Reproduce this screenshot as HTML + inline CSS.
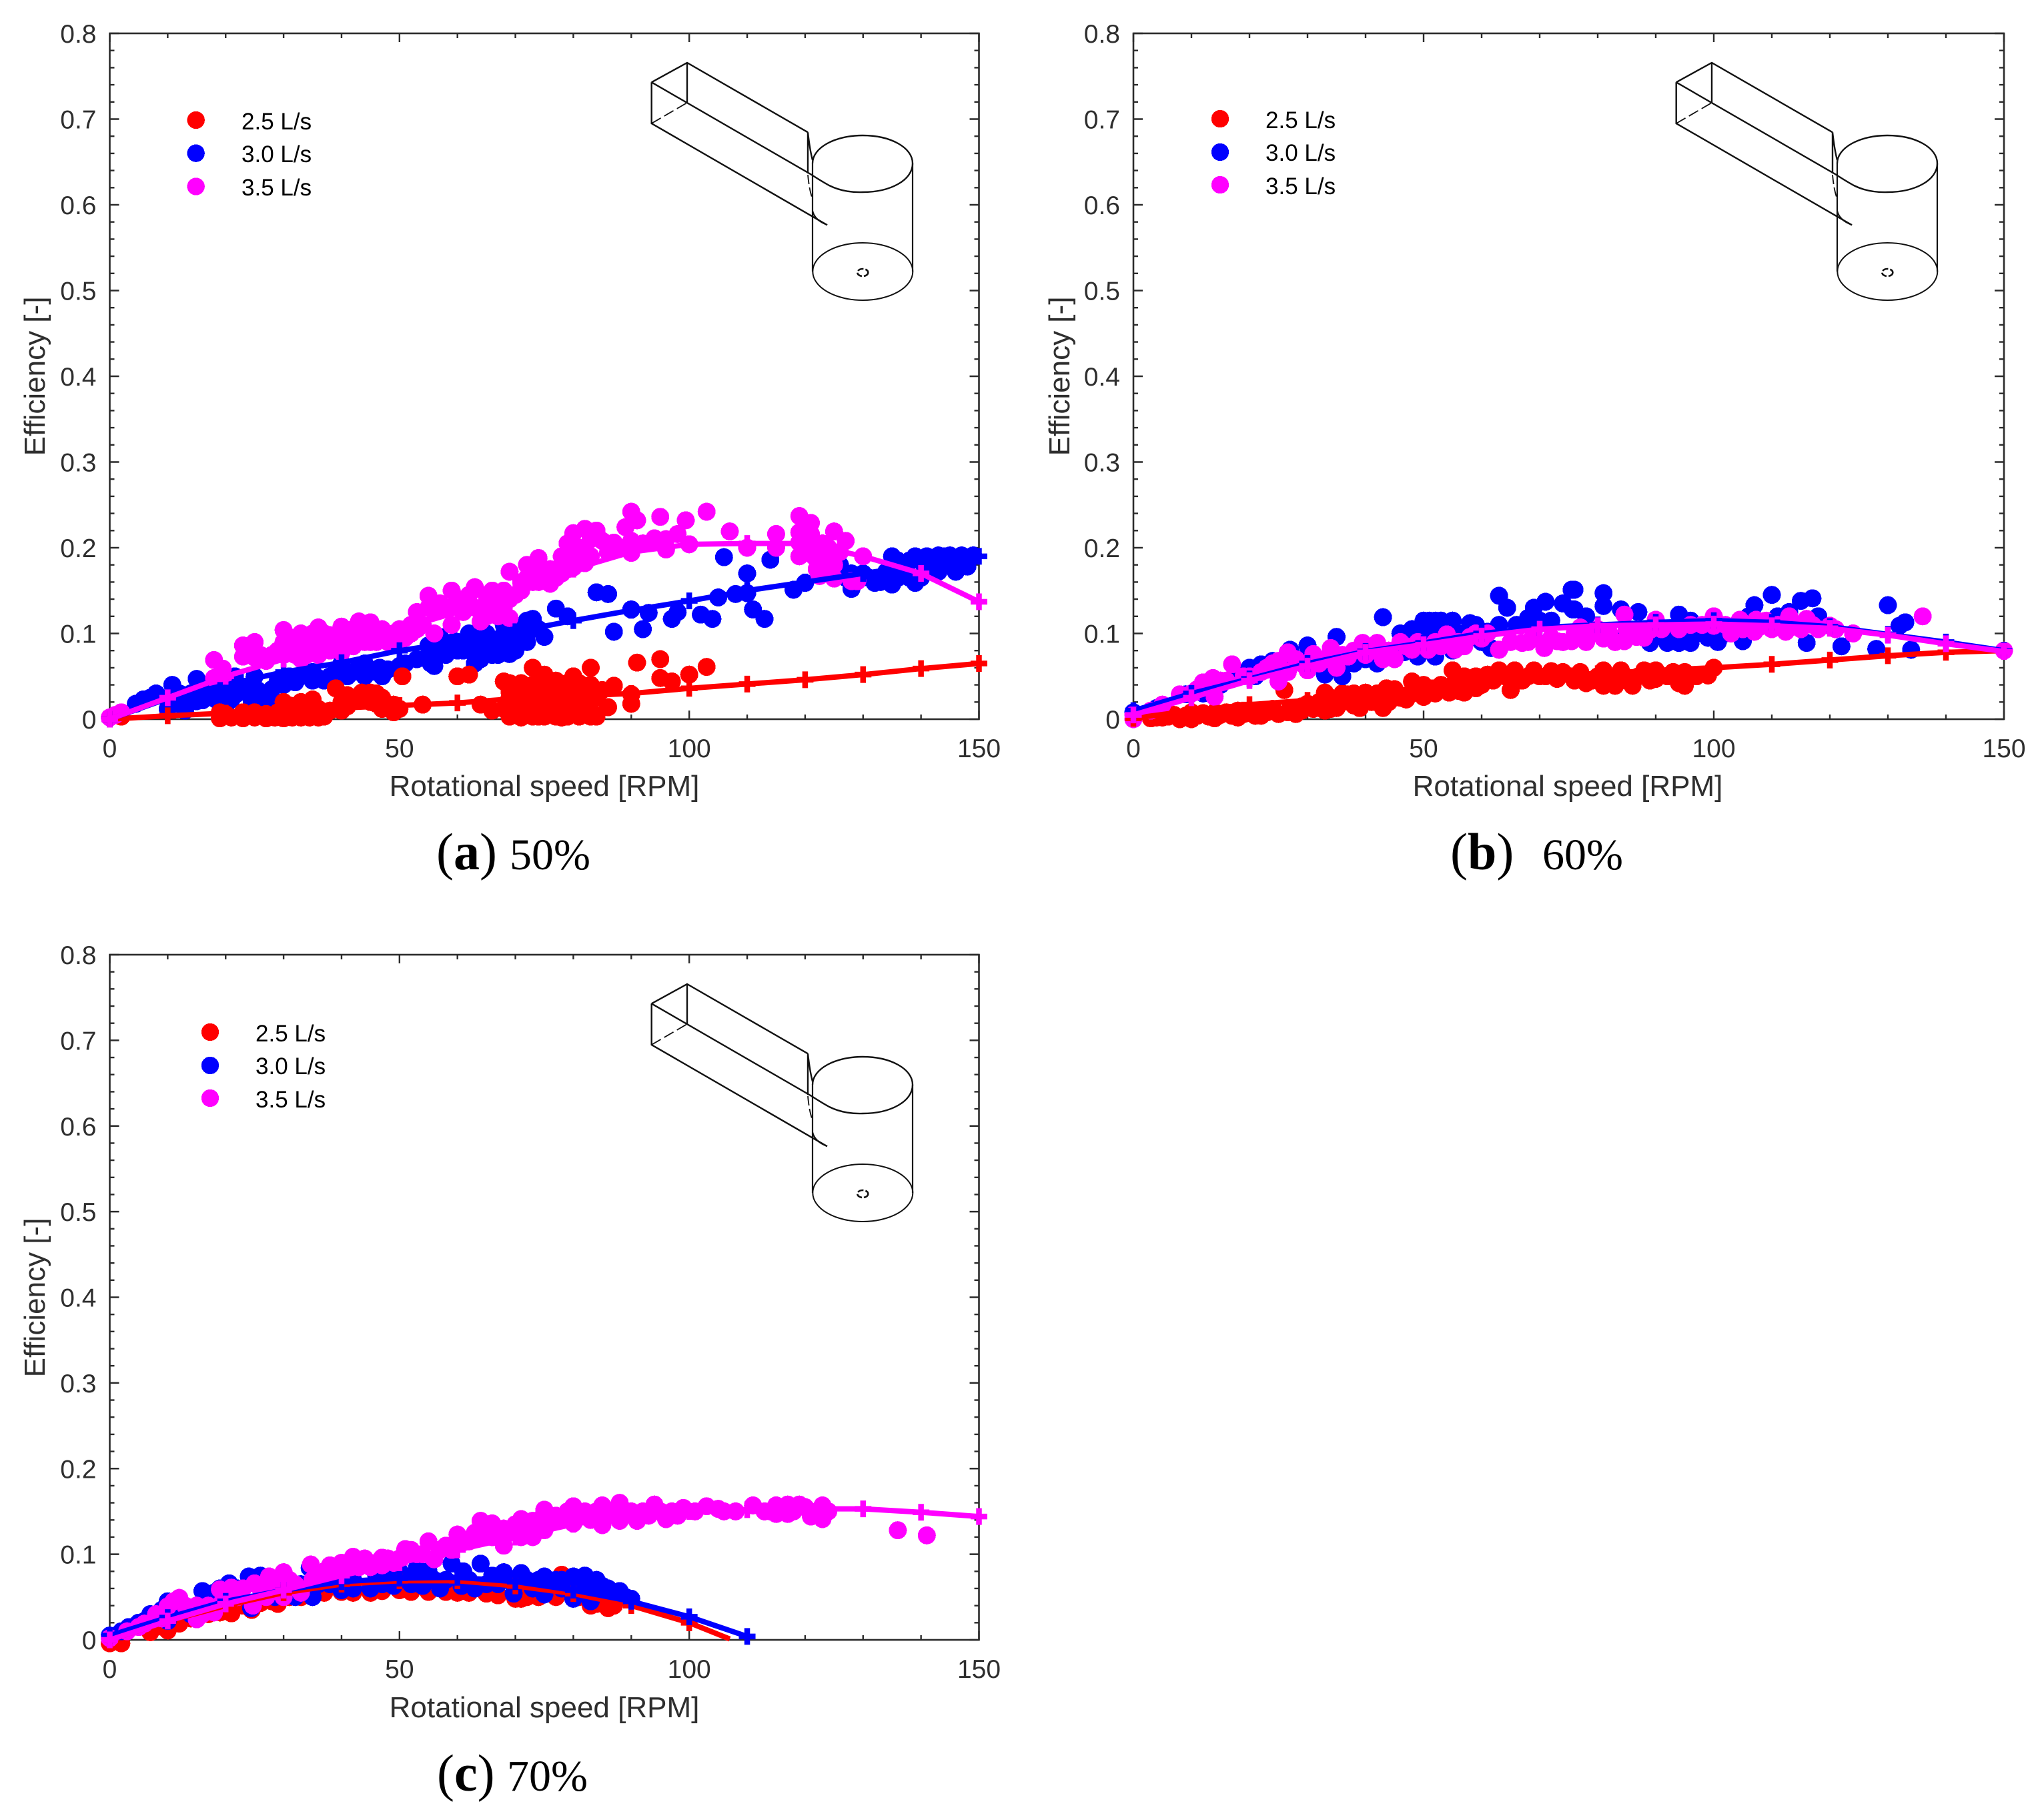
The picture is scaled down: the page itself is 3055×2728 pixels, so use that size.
<!DOCTYPE html>
<html>
<head>
<meta charset="utf-8">
<title>Efficiency vs rotational speed</title>
<style>
html,body{margin:0;padding:0;background:#fff;}
svg{display:block;}
text{font-family:"Liberation Sans",sans-serif;}
.tick-label{font-size:39px;fill:#2e2e2e;}
.axis-title{font-size:44px;fill:#2e2e2e;}
.legend-text{font-size:35px;fill:#000;}
.cap{font-family:"Liberation Serif",serif;fill:#000;}
</style>
</head>
<body>
<svg id="figure" xmlns="http://www.w3.org/2000/svg" width="3055" height="2728" viewBox="0 0 3055 2728">
<defs>
<g id="schematic" fill="none" stroke="#111">
<path stroke-width="2.4" d="M976.7 123.3L1030 94L1211 198.3"/>
<path stroke-width="2.4" d="M976.7 123.3L976.7 185L1240 337.3M1030 94L1030 154"/>
<path stroke-width="2.4" d="M976.7 123.3L1215 261Q1232 272 1243 278Q1265 289 1293 288C1335 288 1368 270 1368 245C1368 221 1335 203 1293 203C1252 203 1218 221 1218 245"/>
<path stroke-width="1.8" stroke-dasharray="16 6" d="M976.7 185L1030 154"/>
<path stroke-width="2.4" d="M1211 198.3L1211 260M1211 198.3Q1214 225 1218 240"/>
<path stroke-width="1.8" stroke-dasharray="14 5" d="M1211 262Q1213 285 1218 298"/>
<path stroke-width="2.2" d="M1218 245L1218 407M1368 245L1368 407M1218 316Q1221 330 1240 337"/>
<ellipse cx="1293.3" cy="407" rx="75" ry="43" stroke-width="2"/>
<ellipse cx="1293.3" cy="408.5" rx="8" ry="5.5" stroke-width="2.6" stroke-dasharray="9 3"/>
</g>
</defs>
<rect x="0" y="0" width="3055" height="2728" fill="#fff"/>

<g id="panel-a">
  <use href="#schematic"/>
  <g id="panel-a-plot"></g>
  <text class="axis-title" x="816" y="1193" text-anchor="middle">Rotational speed [RPM]</text>
  <text class="axis-title" transform="translate(67 564) rotate(-90)" text-anchor="middle">Efficiency [-]</text>
  <g>
    <circle cx="293.7" cy="180" r="13.2" fill="#ff0000" shape-rendering="crispEdges"/>
    <text class="legend-text" x="362" y="194">2.5 L/s</text>
    <circle cx="293.7" cy="229.7" r="13.2" fill="#0000ff" shape-rendering="crispEdges"/>
    <text class="legend-text" x="362" y="243">3.0 L/s</text>
    <circle cx="293.7" cy="279.5" r="13.2" fill="#ff00ff" shape-rendering="crispEdges"/>
    <text class="legend-text" x="362" y="293">3.5 L/s</text>
  </g>
  <g>
    <text class="cap" x="654" y="1303" font-size="78">(<tspan font-weight="bold">a</tspan>)</text>
    <text class="cap" x="764" y="1303" font-size="66">50%</text>
  </g>
</g>

<g id="panel-b">
  <use href="#schematic" transform="translate(1536 0)"/>
  <g id="panel-b-plot"></g>
  <text class="axis-title" x="2350" y="1193" text-anchor="middle">Rotational speed [RPM]</text>
  <text class="axis-title" transform="translate(1603 564) rotate(-90)" text-anchor="middle">Efficiency [-]</text>
  <g>
    <circle cx="1829" cy="178" r="13.2" fill="#ff0000" shape-rendering="crispEdges"/>
    <text class="legend-text" x="1897" y="192">2.5 L/s</text>
    <circle cx="1829" cy="228" r="13.2" fill="#0000ff" shape-rendering="crispEdges"/>
    <text class="legend-text" x="1897" y="241">3.0 L/s</text>
    <circle cx="1829" cy="277" r="13.2" fill="#ff00ff" shape-rendering="crispEdges"/>
    <text class="legend-text" x="1897" y="291">3.5 L/s</text>
  </g>
  <g>
    <text class="cap" x="2174" y="1303" font-size="78">(<tspan font-weight="bold">b</tspan>)</text>
    <text class="cap" x="2312" y="1303" font-size="66">60%</text>
  </g>
</g>

<g id="panel-c">
  <use href="#schematic" transform="translate(0 1381)"/>
  <g id="panel-c-plot"></g>
  <text class="axis-title" x="816" y="2574" text-anchor="middle">Rotational speed [RPM]</text>
  <text class="axis-title" transform="translate(67 1945) rotate(-90)" text-anchor="middle">Efficiency [-]</text>
  <g>
    <circle cx="315" cy="1547" r="13.2" fill="#ff0000" shape-rendering="crispEdges"/>
    <text class="legend-text" x="383" y="1561">2.5 L/s</text>
    <circle cx="315" cy="1597" r="13.2" fill="#0000ff" shape-rendering="crispEdges"/>
    <text class="legend-text" x="383" y="1610">3.0 L/s</text>
    <circle cx="315" cy="1646" r="13.2" fill="#ff00ff" shape-rendering="crispEdges"/>
    <text class="legend-text" x="383" y="1660">3.5 L/s</text>
  </g>
  <g>
    <text class="cap" x="655" y="2684" font-size="78">(<tspan font-weight="bold">c</tspan>)</text>
    <text class="cap" x="760" y="2684" font-size="66">70%</text>
  </g>
</g>
</svg>

<script>
// Tick labels
const xTickValues = [0, 50, 100, 150];
const yTickValues = [0, 0.1, 0.2, 0.3, 0.4, 0.5, 0.6, 0.7, 0.8];
const yTickLabels = ['0', '0.1', '0.2', '0.3', '0.4', '0.5', '0.6', '0.7', '0.8'];

// Fitted curves: RPM sample positions and efficiencies
const fitRpm = [0, 10, 20, 30, 40, 50, 60, 70, 80, 90, 100, 110, 120, 130, 140, 150];
const aFit25 = [0, .004, .007, .010, .013, .016, .019, .024, .027, .030, .036, .041, .046, .052, .059, .065];
const aFit30 = [0, .024, .040, .055, .066, .080, .090, .102, .115, .127, .138, .150, .160, .170, .180, .190];
const aFit35 = [0, .025, .050, .070, .090, .105, .125, .150, .175, .195, .204, .205, .205, .190, .170, .137];
const bFit25 = [.001, .010, .017, .022, .030, .037, .043, .050, .053, .057, .060, .064, .069, .074, .078, .080];
const bFit30 = [.010, .030, .047, .065, .079, .089, .100, .107, .110, .113, .115, .113, .108, .099, .090, .080];
const bFit35 = [.005, .025, .045, .062, .078, .087, .097, .105, .109, .110, .111, .109, .106, .098, .088, .079];
const cFit25Rpm = [0, 10, 20, 30, 40, 50, 60, 70, 80, 90, 100, 107];
const cFit25 = [0, .022, .040, .055, .065, .069, .069, .063, .054, .040, .020, .001];
const cFit30Rpm = [0, 10, 20, 30, 40, 50, 60, 70, 80, 90, 100, 110];
const cFit30 = [.005, .026, .045, .058, .068, .072, .073, .068, .058, .045, .027, .004];
const cFit35 = [0, .022, .042, .058, .075, .090, .105, .120, .135, .146, .150, .152, .153, .153, .149, .144];

// Measured points [rpm, efficiency] - panel (a) 50%
const aData25 = [[0,.002],[2,.003],[19,.001],[19,.008],[23,.001],[23,.008],[27,.001],[27,.006],[30,.001],[30,.012],[30,.02],[33,.002],[33,.012],[36,.002],[36,.012],[35,.023],[39,.036],[40,.01],[40,.02],[43.5,.031],[45,.031],[45,.02],[49,.008],[49,.017],[50.5,.05],[54,.017],[60,.05],[62,.052],[64,.017],[66,.01],[68,.044],[68,.012],[69,.025],[70,.036],[70,.005],[71,.002],[71,.015],[72,.025],[73,.06],[73,.04],[73,.01],[74,.003],[75,.052],[75,.035],[75,.02],[76,.008],[77,.03],[77,.045],[78,.002],[78,.018],[79,.035],[80,.05],[80,.03],[80,.012],[81,.003],[82,.022],[83,.06],[83,.04],[83,.01],[84,.003],[84,.025],[85,.034],[87,.039],[86,.014],[90,.029],[90,.018],[91,.066],[95,.07],[95,.048],[97,.044],[100,.052],[103,.061],[21,.002],[25,.002],[28.5,.002],[31.5,.002],[34.5,.002],[37,.003],[38,.01],[20,.006],[25,.008],[29,.008],[32,.012],[35,.014],[26,.005],[31,.016],[33,.02],[34,.016],[30,.006],[41,.015],[41,.028],[42,.022],[44,.022],[46,.018],[46,.03],[47,.025],[47,.012],[48,.013],[50,.012],[69,.003],[69,.012],[69,.032],[69,.042],[71,.022],[71,.032],[71,.042],[73,.003],[73,.022],[73,.032],[75,.003],[75,.012],[75,.042],[77,.003],[77,.012],[77,.022],[79,.003],[79,.012],[79,.022],[79,.042],[81,.012],[81,.032],[81,.042],[83,.003],[83,.022],[83,.032]];
const aData30 = [[0,.002],[2,.004],[5.8,.023],[4.5,.018],[7,.025],[10.8,.04],[10.8,.03],[10,.012],[13,.01],[15,.047],[15,.021],[18.3,.023],[21,.023],[24.5,.02],[27,.021],[25.5,.034],[21.6,.05],[25,.05],[19,.035],[28,.035],[32,.043],[30,.04],[36,.048],[40.5,.053],[35,.055],[44,.05],[46.6,.06],[44,.065],[40,.065],[55.4,.065],[56,.062],[55,.086],[57,.096],[59.5,.091],[58,.075],[61,.08],[63,.065],[64,.07],[64,.086],[66,.09],[67,.075],[69,.076],[68,.1],[71,.105],[72,.09],[62,.1],[73,.117],[75,.096],[77,.129],[79,.12],[84,.148],[86,.146],[87,.102],[90,.128],[93,.124],[92,.105],[97,.117],[98,.125],[102,.122],[104,.117],[105,.142],[108,.146],[110,.147],[106,.189],[110,.17],[114,.186],[111,.128],[113,.117],[118,.151],[120,.159],[125,.164],[128,.152],[132,.159],[135,.157],[139,.159],[135,.19],[139,.19],[143,.191],[143,.172],[146,.172],[147,.191],[137.5,.172],[130,.17],[140.5,.18],[126,.18],[8,.03],[12,.03],[14,.03],[16,.03],[17,.03],[18,.04],[20,.03],[22,.03],[23,.038],[24,.03],[26,.028],[27,.03],[28,.025],[12,.018],[16,.022],[20,.015],[29,.045],[31,.05],[33,.05],[35,.045],[37,.045],[38,.05],[39,.055],[41,.05],[42,.055],[43,.06],[45,.055],[47,.05],[48,.058],[50,.062],[56,.07],[57,.08],[58,.085],[60,.09],[60,.08],[61,.09],[62,.085],[63,.075],[63,.095],[65,.08],[65,.1],[66,.075],[67,.085],[68,.09],[69,.085],[70,.08],[70,.1],[71,.09],[72,.1],[72,.115],[74,.105],[68,.11],[55,.075],[53,.07],[51,.065],[131,.165],[133,.16],[134,.172],[136,.165],[137,.18],[138,.165],[140,.165],[141,.175],[142,.185],[144,.185],[145,.18],[148,.178],[136,.185],[138,.185],[141,.19],[144,.19],[145,.191],[149,.191],[126,.17],[127,.165],[128,.17]];
const aData35 = [[0,.002],[1,.005],[2,.008],[18,.069],[19.5,.059],[18,.048],[19.5,.047],[23,.086],[25,.09],[23,.073],[25,.072],[27,.068],[30,.104],[30,.09],[30,.075],[33,.1],[33,.085],[33,.07],[36,.107],[36,.09],[36,.075],[38,.098],[40,.108],[40,.09],[40,.078],[43,.114],[43,.095],[45,.113],[45,.09],[47,.095],[49,.1],[51,.105],[52,.11],[53,.125],[55,.144],[56,.1],[59,.15],[59,.11],[61,.125],[63,.154],[64,.114],[65,.135],[67,.14],[69,.172],[69,.118],[71,.16],[72,.18],[74,.188],[74,.174],[76,.158],[78,.19],[78,.17],[80,.217],[80,.177],[82,.222],[82,.182],[84,.22],[85,.208],[87,.206],[90,.242],[91,.232],[89,.224],[90,.194],[90,.208],[94,.211],[96,.198],[95,.236],[99.4,.232],[98,.216],[103,.242],[100,.204],[107,.219],[110,.2],[115,.216],[115,.2],[119,.237],[121,.229],[121,.216],[125,.219],[127,.208],[119,.206],[119,.19],[121.5,.19],[125,.19],[125,.18],[122.5,.167],[130,.19],[129,.161],[128,.161],[125,.164],[26,.075],[28,.075],[29,.08],[31,.095],[31,.08],[32,.075],[32,.095],[34,.075],[34,.09],[35,.1],[37,.085],[37,.1],[38,.08],[39,.085],[41,.1],[41,.085],[42,.085],[42,.105],[44,.09],[44,.1],[46,.1],[46,.09],[47,.105],[48,.09],[49,.09],[50,.09],[50,.105],[51,.095],[52,.1],[53,.105],[54,.11],[55,.13],[56,.125],[57,.135],[58,.13],[60,.14],[61,.14],[62,.145],[63,.13],[65,.145],[65,.12],[66,.13],[66,.15],[67,.12],[68,.13],[68,.15],[69,.14],[70,.145],[71,.15],[72,.165],[73,.16],[74,.16],[75,.17],[76,.175],[77,.165],[78,.18],[79,.175],[80,.19],[81,.2],[82,.2],[79,.205],[83,.21],[80,.2],[83,.19],[86,.195],[88,.2],[92,.205],[96,.21],[122,.2],[123,.205],[124,.2],[120,.2],[119,.218],[122,.175],[124,.175],[126,.195],[123,.185]];

// Measured points [rpm, efficiency] - panel (b) 60%
const bData25 = [[3,.001],[5,.002],[8,0],[10,0],[10,.008],[14,.008],[14,.001],[18,.002],[18,.01],[22,.004],[22,.01],[26,.034],[26.6,.008],[29,.01],[30,.018],[33,.031],[33,.01],[35,.013],[37,.029],[39,.013],[40,.031],[43,.013],[43.6,.036],[47,.023],[48,.044],[50,.026],[51.5,.036],[55,.057],[54.4,.031],[58,.047],[57,.031],[61,.052],[63,.057],[65,.034],[65.7,.057],[69,.057],[72,.056],[74,.055],[75.5,.05],[77,.055],[78,.042],[81,.057],[81,.039],[83,.039],[84,.057],[86,.039],[88,.057],[90,.057],[90,.047],[95,.055],[95,.039],[94,.042],[99,.051],[100,.06],[4,.002],[6,.003],[7,.005],[9,.004],[11,.004],[12,.007],[13,.003],[15,.005],[16,.008],[17,.004],[19,.006],[20,.01],[21,.004],[23,.008],[24,.012],[25,.006],[27,.012],[28,.006],[29,.015],[31,.012],[32,.02],[34,.012],[34,.025],[36,.02],[36,.03],[38,.016],[38,.03],[41,.02],[42,.03],[44,.02],[45,.035],[46,.025],[48,.03],[49,.035],[50,.04],[52,.03],[53,.04],[55,.04],[56,.033],[57,.05],[59,.036],[59,.05],[60,.04],[62,.045],[64,.05],[66,.05],[67,.045],[68,.05],[70,.05],[71,.05],[73,.047],[76,.045],[79,.045],[80,.05],[82,.048],[85,.045],[87,.05],[89,.045],[92,.05],[93,.055],[97,.05]];
const bData30 = [[0,.008],[4,.013],[9,.029],[17,.047],[20,.06],[22,.064],[27,.081],[30,.086],[35,.096],[33,.052],[36,.06],[43,.119],[46,.1],[48,.105],[50,.115],[51,.115],[53,.115],[55,.115],[58,.112],[59,.11],[61,.102],[50,.102],[46.6,.078],[49,.073],[52,.073],[61.6,.083],[63,.144],[64.4,.13],[69,.13],[71,.137],[68,.118],[75.5,.151],[74,.135],[75.7,.128],[76,.151],[81,.147],[81,.132],[76,.128],[84,.128],[87,.125],[89,.089],[92,.089],[94,.122],[96,.115],[94,.089],[96,.089],[100.7,.09],[105,.091],[107,.133],[110,.145],[115,.138],[117,.141],[113,.125],[116,.089],[122,.085],[128,.082],[130,.133],[133,.113],[132,.109],[134,.081],[48,.1],[52,.115],[52,.1],[54,.105],[50,.09],[47,.09],[53,.09],[56,.1],[58,.1],[60,.09],[55,.08],[45,.075],[40,.07],[42,.065],[43,.075],[38,.065],[36,.05],[34,.06],[24,.068],[26,.07],[29,.07],[32,.07],[21,.05],[15,.04],[12,.03],[63,.11],[66,.11],[70,.115],[72,.115],[78,.12],[85,.1],[90,.1],[92,.1],[94,.11],[97,.1],[99,.095],[102,.1],[104,.11],[106,.12],[109,.11],[111,.12],[118,.12],[82,.1],[95,.095]];
const bData35 = [[0,0],[0,.005],[5,.017],[8,.029],[12,.043],[13.7,.048],[17,.064],[14,.026],[15,.045],[26.6,.078],[25,.068],[25,.044],[26.6,.055],[31,.076],[34,.083],[30,.057],[35,.06],[37,.073],[39.5,.089],[42,.089],[46,.09],[43,.07],[45,.07],[48,.081],[50.8,.081],[54,.099],[55.4,.081],[58,.096],[60,.094],[63,.081],[67,.089],[70.8,.083],[73,.091],[75.5,.091],[77,.107],[76,.099],[77.7,.094],[81,.094],[84.6,.122],[84.6,.091],[86.7,.096],[90,.116],[89,.104],[100,.12],[100,.109],[104.5,.116],[107.3,.116],[107,.102],[113,.12],[116,.117],[112.4,.102],[120,.109],[136,.12],[150,.08],[3,.01],[10,.03],[11,.035],[16,.045],[19,.05],[20,.05],[22,.055],[23,.06],[24,.065],[28,.07],[29,.065],[32,.065],[33,.07],[36,.075],[38,.08],[40,.075],[41,.08],[44,.08],[47,.085],[49,.09],[52,.09],[53,.085],[56,.09],[57,.085],[59,.1],[61,.1],[65,.09],[68,.09],[69,.095],[72,.095],[74,.09],[78,.09],[79,.1],[80,.105],[82,.1],[83,.09],[85,.105],[87,.105],[88,.095],[91,.105],[94,.105],[96,.11],[98,.11],[102,.11],[103,.1],[105,.105],[106,.11],[108,.108],[109,.115],[110,.105],[111,.11],[114,.11],[115,.105],[117,.11],[118,.105],[121,.105],[124,.1]];

// Measured points [rpm, efficiency] - panel (c) 70%
const cData25 = [[0,-.004],[2,-.004],[7,.029],[7,.009],[10,.011],[12,.019],[21,.031],[24.5,.035],[29,.042],[35,.053],[42,.055],[45,.055],[47,.057],[60,.055],[65,.054],[65,.059],[70,.048],[71,.048],[75,.053],[78,.076],[83,.04],[86,.037],[87,.04],[4,.015],[5,.02],[6,.02],[8,.015],[9,.02],[14,.025],[17,.03],[19,.032],[23,.04],[26,.043],[28,.045],[31,.05],[33,.05],[37,.055],[40,.056],[50,.058],[52,.056],[55,.056],[58,.056],[62,.055],[67,.052],[72,.05],[74,.05],[77,.05],[79,.072],[81,.05],[84,.042],[80,.073]];
const cData30 = [[0,.005],[3.3,.015],[6,.022],[9,.035],[10,.045],[10,.022],[16,.057],[20.6,.066],[24,.074],[24.4,.037],[28.5,.05],[32,.05],[34.5,.084],[35,.05],[44.5,.089],[40,.058],[49,.063],[45,.06],[53,.084],[54,.063],[59,.089],[64,.089],[60.7,.063],[68,.079],[71,.078],[69.7,.054],[65,.065],[75,.074],[75,.053],[78,.07],[80,.074],[82,.075],[80,.048],[83,.045],[85,.063],[88,.057],[90,.048],[2,.01],[5,.02],[7,.03],[12,.04],[13,.035],[14,.03],[17,.045],[18,.055],[19,.06],[22,.06],[26,.06],[26,.075],[27,.05],[29,.07],[30,.06],[33,.065],[36,.065],[38,.065],[40,.07],[42,.07],[42,.06],[46,.075],[47,.065],[48,.075],[50,.08],[51,.07],[52,.065],[55,.08],[56,.07],[57,.06],[58,.07],[61,.08],[62,.07],[63,.06],[66,.075],[67,.065],[69,.07],[70,.065],[72,.07],[73,.06],[74,.07],[76,.065],[77,.07],[78,.06],[79,.065],[81,.065],[83,.065],[84,.07],[84,.055],[86,.06],[87,.052],[89,.05]];
const cData35 = [[0,.002],[6,.019],[12,.049],[10,.039],[15,.024],[15,.04],[18,.032],[19,.059],[21,.061],[19.5,.045],[25,.066],[24.7,.04],[27.5,.074],[30,.079],[30,.05],[34.7,.088],[33,.055],[38,.087],[42,.097],[41,.087],[47,.096],[51,.106],[47,.087],[55,.115],[56,.094],[60,.123],[64,.139],[64,.12],[66,.136],[68,.11],[71,.141],[71,.12],[73,.139],[73,.12],[75,.152],[75,.128],[80,.156],[80,.136],[85,.157],[85,.134],[88,.16],[88,.139],[94,.158],[91,.139],[96,.141],[99,.154],[103,.156],[105,.153],[108,.15],[111,.157],[115,.157],[115,.147],[117,.158],[119,.158],[117,.147],[123,.157],[123,.141],[136,.128],[141,.122],[121,.144],[3,.01],[5,.015],[8,.03],[9,.025],[11,.045],[13,.04],[16,.03],[17,.04],[20,.05],[22,.05],[23,.06],[26,.06],[27,.05],[28,.065],[29,.06],[31,.07],[32,.065],[35,.07],[36,.075],[37,.08],[39,.08],[40,.09],[43,.085],[44,.095],[45,.085],[46,.09],[48,.095],[49,.09],[50,.095],[52,.105],[53,.1],[54,.1],[57,.105],[58,.11],[59,.105],[61,.115],[62,.115],[63,.125],[65,.125],[66,.12],[67,.13],[68,.13],[69,.125],[70,.135],[72,.13],[74,.14],[76,.14],[77,.145],[78,.14],[79,.15],[81,.145],[82,.15],[83,.14],[84,.15],[86,.145],[87,.15],[89,.15],[90,.15],[92,.15],[93,.145],[95,.15],[97,.15],[98,.145],[101,.15],[106,.15],[113,.15],[114,.15],[118,.15],[120,.155],[122,.15],[124,.15],[116,.15]];

const RED = '#ff0000', BLUE = '#0000ff', MAGENTA = '#ff00ff', AXIS = '#2b2b2b';
const NS = 'http://www.w3.org/2000/svg';

function makeScales(box) {
  return {
    x: function (v) { return box.left + (v / 150) * (box.right - box.left); },
    y: function (v) { return box.bottom - (v / 0.8) * (box.bottom - box.top); }
  };
}

function drawAxes(host, box, s) {
  const frame = document.createElementNS(NS, 'rect');
  
  
  frame.setAttribute('x', box.left);
  frame.setAttribute('y', box.top);
  frame.setAttribute('width', box.right - box.left);
  frame.setAttribute('height', box.bottom - box.top);
  frame.setAttribute('fill', 'none');
  frame.setAttribute('stroke', AXIS);
  frame.setAttribute('stroke-width', '2.6');
  host.appendChild(frame);

  let d = '';
  for (let v = 0; v <= 150; v += 10) {
    const len = v % 50 === 0 ? 13 : 7;
    const px = s.x(v);
    d += 'M' + px + ' ' + box.bottom + 'v' + (-len) + 'M' + px + ' ' + box.top + 'v' + len;
  }
  for (let i = 0; i <= 40; i++) {
    const len = i % 5 === 0 ? 14 : 7;
    const py = s.y(i * 0.02);
    d += 'M' + box.left + ' ' + py + 'h' + len + 'M' + box.right + ' ' + py + 'h' + (-len);
  }
  const ticks = document.createElementNS(NS, 'path');
  
  
  ticks.setAttribute('d', d);
  ticks.setAttribute('stroke', AXIS);
  ticks.setAttribute('stroke-width', '2.4');
  ticks.setAttribute('fill', 'none');
  host.appendChild(ticks);

  xTickValues.forEach(function (v) {
    const t = document.createElementNS(NS, 'text');
    
    
    t.setAttribute('class', 'tick-label');
    t.setAttribute('x', s.x(v));
    t.setAttribute('y', box.bottom + 57);
    t.setAttribute('text-anchor', 'middle');
    t.textContent = String(v);
    host.appendChild(t);
  });
  yTickValues.forEach(function (v, i) {
    const t = document.createElementNS(NS, 'text');
    
    
    t.setAttribute('class', 'tick-label');
    t.setAttribute('x', box.left - 20);
    t.setAttribute('y', s.y(v) + 14);
    t.setAttribute('text-anchor', 'end');
    t.textContent = yTickLabels[i];
    host.appendChild(t);
  });
}

function drawPoints(host, s, pts, color, label) {
  const g = document.createElementNS(NS, 'g');
  
  
  g.setAttribute('fill', color);
  g.setAttribute('shape-rendering', 'crispEdges');
  pts.forEach(function (p) {
    const c = document.createElementNS(NS, 'circle');
    
    
    c.setAttribute('cx', s.x(p[0]));
    c.setAttribute('cy', s.y(p[1]));
    c.setAttribute('r', 13.5);
    g.appendChild(c);
  });
  host.appendChild(g);
}

function drawFit(host, s, rpm, eff, color, label) {
  const g = document.createElementNS(NS, 'g');
  
  
  const line = document.createElementNS(NS, 'polyline');
  
  
  line.setAttribute('points', rpm.map(function (r, i) { return s.x(r) + ',' + s.y(eff[i]); }).join(' '));
  line.setAttribute('fill', 'none');
  line.setAttribute('stroke', color);
  line.setAttribute('stroke-width', '8');
  line.setAttribute('stroke-linejoin', 'round');
  g.appendChild(line);
  rpm.forEach(function (r, i) {
    if (r % 10 !== 0) return;
    const cx = s.x(r), cy = s.y(eff[i]);
    const plus = document.createElementNS(NS, 'path');
    
    
    plus.setAttribute('d', 'M' + (cx - 12.5) + ' ' + cy + 'h25M' + cx + ' ' + (cy - 12.5) + 'v25');
    plus.setAttribute('stroke', color);
    plus.setAttribute('stroke-width', '8.5');
    plus.setAttribute('fill', 'none');
    g.appendChild(plus);
  });
  host.appendChild(g);
}

function drawPanel(id, box, order, fits) {
  const host = document.getElementById(id);
  const s = makeScales(box);
  drawAxes(host, box, s);
  order.forEach(function (o) { drawPoints(host, s, o[0], o[1], o[2]); });
  fits.forEach(function (f) { drawFit(host, s, f[0], f[1], f[2], f[3]); });
}

drawPanel('panel-a-plot', {left: 164.5, right: 1467.5, top: 50, bottom: 1078},
  [[aData30, BLUE, '3-0'], [aData25, RED, '2-5'], [aData35, MAGENTA, '3-5']],
  [[fitRpm, aFit25, RED, '2-5'], [fitRpm, aFit30, BLUE, '3-0'], [fitRpm, aFit35, MAGENTA, '3-5']]);

drawPanel('panel-b-plot', {left: 1699, right: 3004, top: 50, bottom: 1078},
  [[bData25, RED, '2-5'], [bData30, BLUE, '3-0'], [bData35, MAGENTA, '3-5']],
  [[fitRpm, bFit25, RED, '2-5'], [fitRpm, bFit30, BLUE, '3-0'], [fitRpm, bFit35, MAGENTA, '3-5']]);

drawPanel('panel-c-plot', {left: 164.5, right: 1467.5, top: 1431, bottom: 2458},
  [[cData25, RED, '2-5'], [cData30, BLUE, '3-0'], [cData35, MAGENTA, '3-5']],
  [[cFit25Rpm, cFit25, RED, '2-5'], [cFit30Rpm, cFit30, BLUE, '3-0'], [fitRpm, cFit35, MAGENTA, '3-5']]);
</script>
</body>
</html>
